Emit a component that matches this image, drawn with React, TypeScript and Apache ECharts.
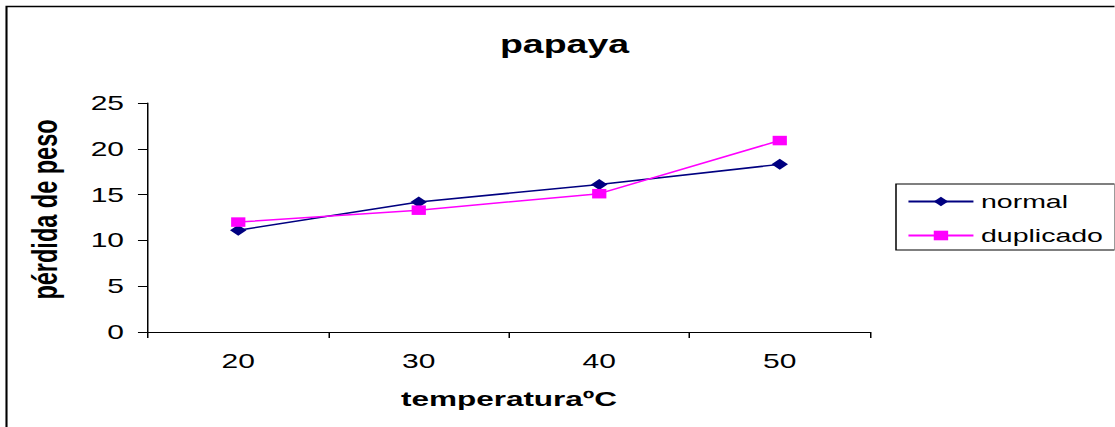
import React, { useEffect, useRef } from "react";
import * as echarts from "echarts";

const categories = ["20", "30", "40", "50"];
const normal = [11.1, 14.2, 16.1, 18.3];
const duplicado = [12.0, 13.3, 15.1, 20.9];

const K = 1.5; // horizontal stretch of the original picture
const W = 1115 / K;
const H = 427;

export default function App() {
  const ref = useRef<HTMLDivElement>(null);
  useEffect(() => {
    document.body.style.margin = "0";
    const chart = echarts.init(ref.current!, null, { renderer: "svg" });
    const font = "'Liberation Sans', Arial, sans-serif";
    chart.setOption({
      animation: false,
      backgroundColor: "#fff",
      textStyle: { fontFamily: font },
      title: {
        text: "papaya",
        left: 557 / K,
        textAlign: "center",
        top: 27,
        textStyle: { fontSize: 25, fontWeight: "bold", color: "#000", fontFamily: font },
      },
      graphic: [
        {
          type: "rect",
          shape: { x: 6.5 / K, y: 6.5, width: 1000, height: 500 },
          style: { fill: "none", stroke: "#000", lineWidth: 1.4 },
          silent: true,
        },
      ],
      legend: {
        orient: "vertical",
        left: 896 / K,
        top: 184,
        padding: [8, 8, 5, 7.3],
        borderColor: "#000",
        borderWidth: 1,
        itemWidth: 65 / K,
        itemHeight: 12,
        itemGap: 15,
        textStyle: { fontSize: 19, color: "#000", fontFamily: font },
        data: ["normal", "duplicado"],
      },
      grid: { left: 148 / K, top: 103, width: 722 / K, height: 229 },
      xAxis: {
        type: "category",
        data: categories,
        boundaryGap: true,
        name: "temperaturaºC",
        nameLocation: "middle",
        nameGap: 56.5,
        nameTextStyle: { fontSize: 21, fontWeight: "bold", color: "#000", fontFamily: font },
        axisLine: { lineStyle: { color: "#000", width: 1 } },
        axisTick: { show: true, length: 6, lineStyle: { color: "#000" } },
        axisLabel: { fontSize: 20, color: "#000", margin: 19, fontFamily: font },
        splitLine: { show: false },
      },
      yAxis: {
        type: "value",
        min: 0,
        max: 25,
        interval: 5,
        name: "pérdida de peso",
        nameLocation: "middle",
        nameGap: 57,
        nameRotate: 90,
        nameTextStyle: {
          fontSize: 23.5,
          fontWeight: "bold",
          color: "#000",
          fontFamily: font,
          padding: [0, 0, 0, 16],
        },
        axisLine: { show: true, lineStyle: { color: "#000", width: 1 } },
        axisTick: { show: true, length: 6.7, lineStyle: { color: "#000" } },
        axisLabel: { fontSize: 20, color: "#000", margin: 16, fontFamily: font },
        splitLine: { show: false },
      },
      series: [
        {
          name: "normal",
          type: "line",
          data: normal,
          symbol: "diamond",
          symbolSize: 11,
          color: "#000080",
          lineStyle: { color: "#000080", width: 1.5 },
          itemStyle: { color: "#000080" },
        },
        {
          name: "duplicado",
          type: "line",
          data: duplicado,
          symbol: "rect",
          symbolSize: 9.5,
          color: "#ff00ff",
          lineStyle: { color: "#ff00ff", width: 1.5 },
          itemStyle: { color: "#ff00ff" },
        },
      ],
    });
    return () => chart.dispose();
  }, []);
  return (
    <div style={{ width: 1115, height: H, overflow: "hidden" }}>
      <div
        ref={ref}
        style={{ width: W, height: H, transform: `scaleX(${K})`, transformOrigin: "0 0" }}
      />
    </div>
  );
}
